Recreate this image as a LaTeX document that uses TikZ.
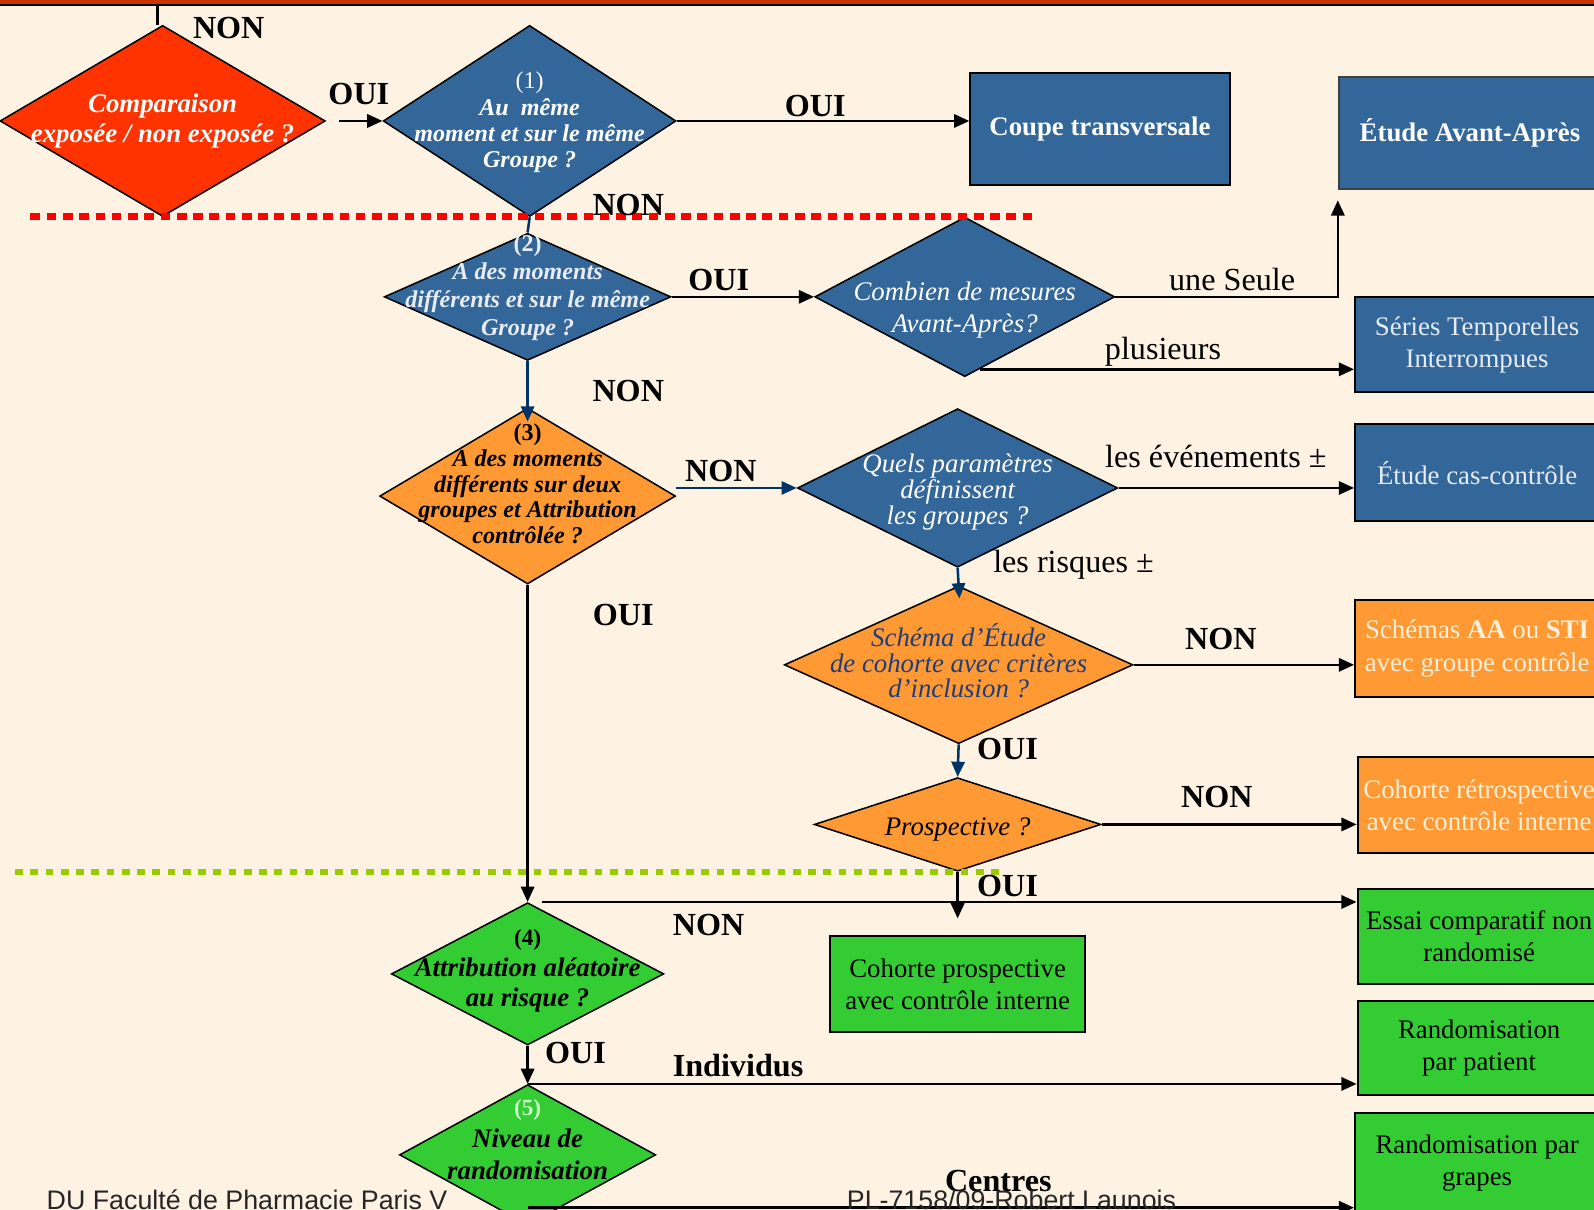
\documentclass[tikz,border=0pt]{standalone}
\usepackage{fontspec}
\setmainfont{Liberation Serif}
\newfontfamily\pied{Liberation Sans}
\usetikzlibrary{arrows.meta, shapes.geometric, calc}

\definecolor{fondo}{HTML}{FEF2E3}
\definecolor{rojo}{HTML}{FF3300}
\definecolor{azul}{HTML}{336699}
\definecolor{naranja}{HTML}{FF9933}
\definecolor{verde}{HTML}{33CC33}
\definecolor{azulosc}{HTML}{003366}
\definecolor{borde}{HTML}{CC3300}
\definecolor{lima}{HTML}{99CC00}
\definecolor{gris}{HTML}{E8ECF4}
\definecolor{crema}{HTML}{FFF0DC}
\definecolor{azultxt}{HTML}{1F3D7A}
\definecolor{verdeclaro}{HTML}{CCFFCC}

\begin{document}
\begin{tikzpicture}[x=0.2mm, y=-0.2mm, >={Triangle[length=3mm,width=2.6mm]}, line width=0.5mm,
  dia/.style={diamond, draw=black, line width=0.3mm, inner sep=0pt},
  caja/.style={rectangle, draw=black, line width=0.4mm, inner sep=0pt, align=center,
    font=\fontsize{15}{18}\selectfont},
  dtxt/.style={inner sep=0pt, align=center},
  lab/.style={inner sep=0pt, font=\fontsize{18}{20}\selectfont\bfseries},
  txt/.style={inner sep=0pt, font=\fontsize{18}{20}\selectfont}]
  \useasboundingbox (0,0) rectangle (1568,1190);
  \clip (0,0) rectangle (1568,1190);
  % fondo y banda superior
  \fill[fondo] (0,0) rectangle (1568,1190);
  \fill[borde] (0,0) rectangle (1568,4);
  \fill[black] (0,4) rectangle (1568,5.5);
  % rombos de decision
  \node[dia, fill=rojo, minimum width=64mm, minimum height=37.6mm,
    label={[dtxt, text=white, font=\fontsize{15}{17}\selectfont\bfseries\itshape]center:{Comparaison\\exposée / non exposée ?}}] (D0) at (160,119) {};
  \node[dia, fill=azul, minimum width=57.6mm, minimum height=37.6mm,
    label={[dtxt, text=white, yshift=-0.3mm, font=\fontsize{13.5}{14.8}\selectfont\bfseries\itshape]center:{{\mdseries\upshape(1)}\\Au~ même\\moment et sur le même\\Groupe ?}}] (D1) at (521,119) {};
  \node[dia, fill=azul, minimum width=56.4mm, minimum height=25mm,
    label={[dtxt, text=gris, yshift=1.8mm, font=\fontsize{13.5}{15.7}\selectfont\bfseries\itshape]center:{{\upshape(2)}\\A des moments\\différents et sur le même\\Groupe ?}}] (D2) at (519,292) {};
  \node[dia, fill=azul, minimum width=59mm, minimum height=31.4mm,
    label={[dtxt, text=white, yshift=-2.6mm, font=\fontsize{15}{17.6}\selectfont\itshape]center:{Combien de mesures\\Avant-Après?}}] (D2b) at (949,292) {};
  \node[dia, fill=naranja, minimum width=58.2mm, minimum height=34.6mm,
    label={[dtxt, text=black, yshift=2.4mm, font=\fontsize{13.5}{14.5}\selectfont\bfseries\itshape]center:{{\upshape(3)}\\A des moments\\différents sur deux\\groupes et Attribution\\contrôlée ?}}] (D3) at (519,488) {};
  \node[dia, fill=azul, minimum width=63mm, minimum height=31.2mm,
    label={[dtxt, text=white, yshift=-0.8mm, font=\fontsize{15}{14.5}\selectfont\itshape]center:{Quels paramètres\\définissent\\les groupes ?}}] (D4) at (942,480) {};
  \node[dia, fill=naranja, minimum width=68.6mm, minimum height=31mm,
    label={[dtxt, text=azultxt, yshift=0.8mm, font=\fontsize{15}{14.5}\selectfont\itshape]center:{Schéma d’Étude\\de cohorte avec critères\\d’inclusion ?}}] (D5) at (943,654) {};
  \node[dia, fill=naranja, minimum width=56.4mm, minimum height=18.4mm,
    label={[dtxt, text=black, yshift=-1mm, font=\fontsize{15}{17}\selectfont\itshape]center:{Prospective ?}}] (D6) at (942,811) {};
  \node[dia, fill=verde, minimum width=53.6mm, minimum height=28mm,
    label={[dtxt, text=black, yshift=0.6mm, font=\fontsize{15}{17}\selectfont\bfseries\itshape]center:{{\upshape\fontsize{13}{17}\selectfont(4)}\\Attribution aléatoire\\au risque ?}}] (D7) at (519,958) {};
  \node[dia, fill=verde, minimum width=50.4mm, minimum height=27.6mm,
    label={[dtxt, text=black, yshift=3mm, font=\fontsize{15}{18}\selectfont\bfseries\itshape]center:{{\upshape\fontsize{13}{18}\selectfont\color{verdeclaro}(5)}\\Niveau de\\randomisation}}] (D8) at (519,1136) {};
  % cajas de resultado
  \node[caja, fill=azul, text=white, font=\fontsize{15}{18}\selectfont\bfseries,
    minimum width=51mm, minimum height=22mm] (B1) at (1082,127) {Coupe transversale};
  \node[caja, fill=azul, draw=black!75, text=white, font=\fontsize{15}{18}\selectfont\bfseries,
    minimum width=51.6mm, minimum height=22mm] (B2) at (1446,131) {Étude Avant-Après};
  \node[caja, fill=azul, text=gris, minimum width=48mm, minimum height=18.8mm] (B3) at (1453,339) {Séries Temporelles\\Interrompues};
  \node[caja, fill=azul, text=gris, minimum width=48mm, minimum height=19mm] (B4) at (1453,465) {Étude cas-contrôle};
  \node[caja, fill=naranja, text=crema, minimum width=48mm, minimum height=19mm] (B5) at (1453,638) {Schémas \textbf{AA} ou \textbf{STI}\\avec groupe contrôle};
  \node[caja, fill=naranja, text=crema, minimum width=47.8mm, minimum height=18.8mm] (B6) at (1455,792) {Cohorte rétrospective\\avec contrôle interne};
  \node[caja, fill=verde, minimum width=50.2mm, minimum height=19mm] (B7) at (942,968) {Cohorte prospective\\avec contrôle interne};
  \node[caja, fill=verde, minimum width=47.8mm, minimum height=18.6mm] (B8) at (1455,921) {Essai comparatif non\\randomisé};
  \node[caja, fill=verde, minimum width=47.8mm, minimum height=18.6mm] (B9) at (1455,1031) {Randomisation\\par patient};
  \node[caja, fill=verde, minimum width=48mm, minimum height=19.8mm] (B10) at (1453,1144) {Randomisation par\\grapes};
  % lineas punteadas
  \draw[red, line width=1.3mm, dash pattern=on 1.9mm off 1.3mm] (30,213) -- (1015,213);
  \draw[lima, line width=1.2mm, dash pattern=on 1.5mm off 1.5mm] (15,858) -- (985,858);
  % conectores
  \coordinate (haut) at (155,4);
  \draw (haut) -- (haut |- D0.north);
  \draw[->, shorten <=2.6mm] (D0.east) -- (D1.west);
  \draw[->] (D1.east) -- (D1.east -| B1.west);
  \draw[azulosc] (D1.south) -- (D2.north);
  \draw[->] (D2.east) -- (D2b.west);
  \draw[->, shorten >=2mm] (D2b.east) -| (B2.south west);
  \coordinate (plus) at ($(D2b.south)!0.1!(D2b.east)$);
  \draw[->] (plus) -- (plus -| B3.west);
  \draw[->, azulosc, shorten >=-2.8mm] (D2.south) -- (D3.north);
  \draw[->, azulosc] (D3.east |- D4.west) -- (D4.west);
  \draw[->] (D4.east) -- (D4.east -| B4.west);
  \draw[->, azulosc, shorten >=-2.6mm] (D4.south) -- (D5.north);
  \draw[->] (D5.east) -- (D5.east -| B5.west);
  \draw[->, azulosc] (D5.south) -- (D6.north);
  \draw[->] (D6.east) -- (D6.east -| B6.west);
  \draw[->, shorten >=3.2mm] (D6.south) -- (B7.north);
  \draw[->] (D3.south) -- (D7.north);
  \draw[->, shorten <=2.8mm] (D7.north) -- (D7.north -| B8.west);
  \draw[->] (D7.south) -- (D8.north);
  \draw[->] (D8.north) -- (D8.north -| B9.west);
  \coordinate (bas) at (519,1188);
  \draw[->] (bas) -- (bas -| B10.west);
  % etiquetas
  \node[lab] (nonA) at (225,28) {NON};
  \node[lab] (ouiA) at (353,92) {OUI};
  \node[lab] (ouiB) at (802,104) {OUI};
  \node[lab] (nonB) at (618,202) {NON};
  \node[lab] (ouiC) at (707,275) {OUI};
  \node[txt] (seule) at (1212,275) {une Seule};
  \node[txt] (plusieurs) at (1144,346) {plusieurs};
  \node[lab] (nonC) at (618,385) {NON};
  \node[lab] (nonD) at (709,463) {NON};
  \node[txt] (evts) at (1196,449) {les événements ±};
  \node[txt] (risques) at (1056,556) {les risques ±};
  \node[lab] (ouiD) at (613,605) {OUI};
  \node[lab] (nonE) at (1201,629) {NON};
  \node[lab] (ouiE) at (991,737) {OUI};
  \node[lab] (nonF) at (1197,784) {NON};
  \node[lab] (ouiF) at (991,872) {OUI};
  \node[lab] (nonG) at (697,910) {NON};
  \node[lab] (ouiG) at (566,1036) {OUI};
  \node[lab] (indiv) at (726,1048) {Individus};
  \node[lab] (centres) at (982,1162) {Centres};
  % pie de pagina
  \node[inner sep=0pt, text=black!85, font=\pied\fontsize{15}{17}\selectfont] (pieG) at (243,1180) {DU Faculté de Pharmacie Paris V};
  \node[inner sep=0pt, text=black!85, font=\pied\fontsize{15}{17}\selectfont] (pieD) at (995,1180) {PL-7158/09-Robert Launois};
\end{tikzpicture}
\end{document}
